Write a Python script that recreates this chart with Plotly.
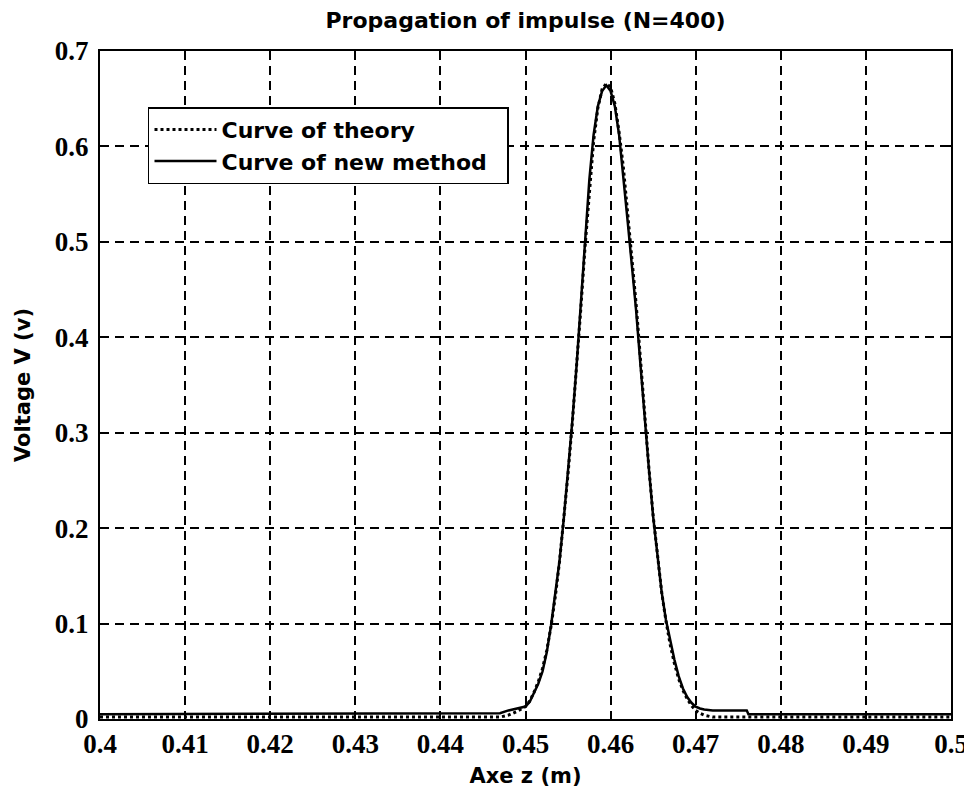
import plotly.graph_objects as go

# ---- data ----
z_theory = [0.400, 0.447, 0.448, 0.449, 0.450, 0.4505, 0.451, 0.4515, 0.452, 0.4525,
            0.453, 0.4535, 0.454, 0.4545, 0.455, 0.4555, 0.456, 0.4565, 0.457, 0.4575,
            0.458, 0.4585, 0.459, 0.4595, 0.460, 0.4605, 0.461, 0.4615, 0.462, 0.4625,
            0.463, 0.4635, 0.464, 0.4645, 0.465, 0.4655, 0.466, 0.4665, 0.467, 0.4675,
            0.468, 0.4685, 0.469, 0.4695, 0.470, 0.4705, 0.471, 0.472, 0.500]
v_theory = [0.002, 0.002, 0.004, 0.008, 0.013, 0.019, 0.028, 0.039, 0.053, 0.072,
            0.097, 0.128, 0.165, 0.208, 0.257, 0.310, 0.368, 0.430, 0.495, 0.555,
            0.605, 0.640, 0.660, 0.666, 0.662, 0.645, 0.615, 0.578, 0.532, 0.485,
            0.435, 0.378, 0.318, 0.263, 0.213, 0.170, 0.133, 0.103, 0.078, 0.058,
            0.042, 0.030, 0.021, 0.014, 0.009, 0.006, 0.004, 0.002, 0.002]

z_new = [0.400, 0.447, 0.448, 0.449, 0.450, 0.4505, 0.451, 0.4515, 0.452, 0.4525,
         0.453, 0.4535, 0.454, 0.4545, 0.455, 0.4555, 0.456, 0.4565, 0.457, 0.4575,
         0.458, 0.4585, 0.459, 0.4595, 0.460, 0.4605, 0.461, 0.4615, 0.462, 0.4625,
         0.463, 0.4635, 0.464, 0.4645, 0.465, 0.4655, 0.466, 0.4665, 0.467, 0.4675,
         0.468, 0.4685, 0.469, 0.4695, 0.470, 0.4705, 0.471, 0.472, 0.476, 0.4762, 0.500]
v_new = [0.005, 0.006, 0.009, 0.011, 0.013, 0.018, 0.027, 0.037, 0.050, 0.070,
         0.098, 0.130, 0.166, 0.210, 0.260, 0.312, 0.370, 0.435, 0.505, 0.565,
         0.612, 0.642, 0.658, 0.664, 0.658, 0.642, 0.612, 0.570, 0.522, 0.475,
         0.428, 0.372, 0.315, 0.262, 0.212, 0.170, 0.133, 0.104, 0.082, 0.062,
         0.045, 0.032, 0.023, 0.017, 0.013, 0.011, 0.010, 0.009, 0.009, 0.005, 0.005]

x_ticks = [0.40, 0.41, 0.42, 0.43, 0.44, 0.45, 0.46, 0.47, 0.48, 0.49, 0.50]
x_labels = ["0.4", "0.41", "0.42", "0.43", "0.44", "0.45", "0.46", "0.47", "0.48", "0.49", "0.5"]
y_ticks = [0, 0.1, 0.2, 0.3, 0.4, 0.5, 0.6, 0.7]
y_labels = ["0", "0.1", "0.2", "0.3", "0.4", "0.5", "0.6", "0.7"]

SANS = "DejaVu Sans"
SERIF = "Liberation Serif"
PAD = "\u00a0\u00a0"

fig = go.Figure()
fig.add_trace(go.Scatter(x=z_theory, y=v_theory, mode="lines", name="Curve of theory" + PAD,
                         line=dict(color="black", width=3, dash="dot")))
fig.add_trace(go.Scatter(x=z_new, y=v_new, mode="lines", name="Curve of new method" + PAD,
                         line=dict(color="black", width=2.5)))

axis_common = dict(
    showline=True, linecolor="black", linewidth=2, mirror="ticks",
    ticks="inside", ticklen=6, tickwidth=1.5, tickcolor="black",
    showgrid=True, gridcolor="black", gridwidth=1.5, griddash="9px,6px",
    zeroline=False, automargin=False,
    tickfont=dict(family=SERIF, size=27, color="black", weight="bold"),
)

fig.update_layout(
    width=972, height=794,
    margin=dict(l=92, r=29, t=43, b=83),
    paper_bgcolor="white", plot_bgcolor="white",
    title=dict(text="<b>Propagation of impulse (N=400)</b>", x=0.5, xref="paper",
               y=1 - 12 / 794, yref="container", yanchor="middle", xanchor="center",
               font=dict(family=SANS, size=22, color="black")),
    xaxis=dict(range=[0.4, 0.5], tickvals=x_ticks, ticktext=x_labels,
               title=dict(text="<b>Axe z (m)</b>", standoff=10,
                          font=dict(family=SANS, size=21, color="black")),
               **axis_common),
    yaxis=dict(range=[0, 0.7], tickvals=y_ticks, ticktext=y_labels,
               ticklabelstandoff=4,
               title=dict(text="<b>Voltage V (v)</b>", standoff=18,
                          font=dict(family=SANS, size=21, color="black")),
               **axis_common),
    legend=dict(x=0.0564, y=0.916, xanchor="left", yanchor="top",
                bgcolor="white", bordercolor="black", borderwidth=1.5,
                itemwidth=62,
                font=dict(family=SANS, size=22, color="black", weight="bold"),
                tracegroupgap=0),
    showlegend=True,
)

fig.write_html("out.html")
